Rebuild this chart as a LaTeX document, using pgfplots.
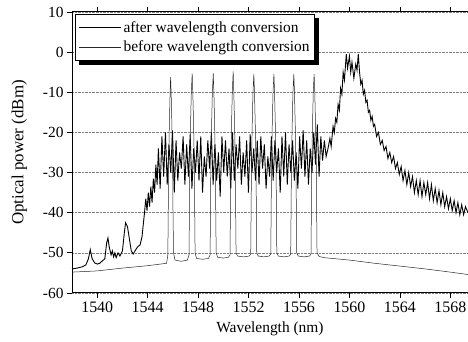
\documentclass[border=0pt]{standalone}
\usepackage{pgfplots}
\pgfplotsset{compat=1.18}
\usepackage{fontspec}
\setmainfont{Liberation Serif}
\begin{document}
\begin{tikzpicture}
\begin{axis}[
  scale only axis,
  width=396bp, height=281bp,
  xmin=1538, xmax=1569.4,
  ymin=-60, ymax=10,
  xtick={1540,1544,...,1568},
  minor x tick num=3,
  ytick={-60,-50,...,10},
  tick align=outside,
  major tick length=5bp,
  minor tick length=3bp,
  axis line style={line width=1pt},
  every tick/.style={black, line width=0.8pt},
  ymajorgrids,
  grid style={densely dotted, gray, line width=0.6pt},
  /pgf/number format/assume math mode=true,
  /pgf/number format/set thousands separator={},
  xticklabel style={font=\fontsize{16}{18}\selectfont},
  yticklabel style={font=\fontsize{15.5}{18}\selectfont},
  xlabel={Wavelength (nm)},
  ylabel={Optical power (dBm)},
  xlabel style={font=\fontsize{15.5}{18}\selectfont, yshift=-3bp},
  ylabel style={font=\fontsize{17}{19}\selectfont, yshift=9bp},
  legend style={at={(rel axis cs:0.008,0.993)}, anchor=north west, name=leg,
    draw=black, line width=1pt, fill=white,
    font=\fontsize{15.5}{18}\selectfont, inner xsep=3pt, inner ysep=5pt,
    cells={anchor=west}, row sep=3pt},
  legend image code/.code={\draw[#1] (0bp,0bp) -- (42bp,0bp);},
]
% after wavelength conversion
\addplot[black, line width=0.9pt] coordinates {
(1538.0,-54.0) (1538.4,-53.8) (1538.8,-53.5) (1539.1,-53.0) (1539.3,-51.5) (1539.45,-49.2) (1539.6,-51.5) (1539.8,-52.5) (1540.0,-52.8) (1540.2,-52.6) (1540.4,-52.0) (1540.6,-51.5) (1540.75,-47.5) (1540.85,-46.3) (1540.95,-48.5) (1541.1,-50.5) (1541.2,-49.5) (1541.3,-51) (1541.4,-50) (1541.5,-51.2) (1541.65,-50) (1541.8,-50.8) (1542.0,-49.5) (1542.15,-45) (1542.25,-42.5) (1542.4,-43.5) (1542.55,-46.5) (1542.7,-49.5) (1542.85,-50.3) (1543.0,-49.5) (1543.2,-48.5) (1543.4,-48.0) (1543.55,-46) (1543.65,-43) (1543.75,-40) (1543.85,-36.5) (1543.95,-39.5) (1544.05,-35) (1544.15,-38.5) (1544.25,-33.5) (1544.35,-37.5) (1544.45,-31.5) (1544.55,-35) (1544.65,-28) (1544.75,-33)
(1544.85,-24) (1544.99,-34) (1545.13,-21) (1545.27,-31) (1545.41,-20) (1545.55,-33) (1545.69,-23) (1545.83,-30) (1545.97,-19.5) (1546.11,-35) (1546.25,-22) (1546.39,-32) (1546.53,-25) (1546.67,-29) (1546.81,-21) (1546.95,-33) (1547.09,-23) (1547.23,-31) (1547.37,-20.5) (1547.51,-34) (1547.65,-24) (1547.79,-30) (1547.93,-22) (1548.07,-32) (1548.21,-21) (1548.35,-35) (1548.49,-26) (1548.63,-31) (1548.77,-22) (1548.91,-29) (1549.05,-20) (1549.19,-33) (1549.33,-23) (1549.47,-32) (1549.61,-25) (1549.75,-36) (1549.89,-21) (1550.03,-30) (1550.17,-22) (1550.31,-31) (1550.45,-24) (1550.59,-34) (1550.73,-20) (1550.87,-32) (1551.01,-23) (1551.15,-29) (1551.29,-21) (1551.43,-33) (1551.57,-25) (1551.71,-31) (1551.85,-22) (1551.99,-35) (1552.13,-20.5) (1552.27,-30) (1552.41,-24) (1552.55,-32) (1552.69,-22) (1552.83,-33) (1552.97,-21) (1553.11,-29) (1553.25,-23) (1553.39,-34) (1553.53,-26) (1553.67,-31) (1553.81,-21) (1553.95,-32) (1554.09,-22) (1554.23,-30) (1554.37,-24) (1554.51,-35) (1554.65,-21) (1554.79,-31) (1554.93,-20) (1555.07,-33) (1555.21,-23) (1555.35,-30) (1555.49,-22) (1555.63,-32) (1555.77,-25) (1555.91,-34) (1556.05,-21) (1556.19,-29) (1556.33,-19.5) (1556.47,-31) (1556.61,-22) (1556.75,-33) (1556.89,-24) (1557.03,-30) (1557.17,-20) (1557.31,-28) (1557.45,-18) (1557.59,-31) (1557.73,-21) (1557.87,-27) (1558.01,-22) (1558.15,-26)
(1558.3,-24) (1558.45,-21.5) (1558.55,-23.5) (1558.7,-18.5) (1558.8,-20) (1558.9,-16.5) (1559.0,-17.5) (1559.1,-13) (1559.2,-14.5) (1559.3,-9) (1559.4,-10.5) (1559.5,-5) (1559.6,-7) (1559.75,-0.5) (1559.85,-4) (1560.0,-1) (1560.1,-5) (1560.2,-2.5) (1560.35,-6.5) (1560.5,-3) (1560.6,-4.5) (1560.7,-0.5) (1560.8,-5) (1560.9,-8) (1561.0,-7) (1561.1,-10.5) (1561.2,-9.5) (1561.3,-12.5) (1561.4,-12) (1561.5,-15) (1561.6,-14.5) (1561.7,-17) (1561.8,-16) (1561.9,-18.5) (1562.0,-18) (1562.15,-21) (1562.3,-20) (1562.45,-23) (1562.6,-22) (1562.75,-24.5) (1562.9,-23.5) (1563.05,-26.5) (1563.2,-25) (1563.35,-27.5) (1563.5,-26) (1563.65,-29) (1563.8,-27.5) (1563.95,-30.5) (1564.1,-28.5) (1564.25,-32) (1564.4,-29.5) (1564.55,-33) (1564.7,-30) (1564.85,-33.5) (1565.0,-31) (1565.15,-35) (1565.3,-32) (1565.45,-35.5) (1565.6,-32) (1565.75,-36) (1565.9,-32.5) (1566.05,-35.5) (1566.2,-32.5) (1566.35,-36.5) (1566.5,-33) (1566.65,-37) (1566.8,-34) (1566.95,-37.5) (1567.1,-34.5) (1567.25,-38) (1567.4,-35) (1567.55,-38.5) (1567.7,-36) (1567.85,-39) (1568.0,-36.5) (1568.15,-39.5) (1568.3,-37) (1568.45,-40) (1568.6,-37.5) (1568.75,-40.5) (1568.9,-38) (1569.05,-40.5) (1569.2,-38.5) (1569.4,-40)
};
\addlegendentry{after wavelength conversion}
% before wavelength conversion
\addplot[black!85, line width=0.5pt] coordinates {
(1538.0,-54.8) (1540,-54.5) (1542,-53.8) (1544,-53.2) (1545.5,-52.6)
(1545.6,-50.5) (1545.63,-40) (1545.66,-28) (1545.72,-18) (1545.78,-10) (1545.82,-6.2) (1545.86,-10) (1545.92,-18) (1545.98,-28) (1546.01,-40) (1546.05,-50) (1546.17,-51.8) (1546.65,-52.1) (1547.15,-51.8)
(1547.28,-50.5) (1547.31,-40) (1547.34,-28) (1547.4,-18) (1547.46,-10) (1547.53,-5.3) (1547.58,-10) (1547.64,-18) (1547.7,-28) (1547.73,-40) (1547.76,-50) (1547.88,-51.4) (1548.35,-51.6) (1548.82,-51.4)
(1548.95,-50.5) (1548.98,-40) (1549.01,-28) (1549.07,-18) (1549.13,-10) (1549.2,-5.3) (1549.25,-10) (1549.31,-18) (1549.37,-28) (1549.4,-40) (1549.43,-50) (1549.55,-51.1) (1550.0,-51.3) (1550.4,-51.1)
(1550.53,-50.5) (1550.56,-40) (1550.59,-28) (1550.65,-18) (1550.71,-10) (1550.78,-4.8) (1550.83,-10) (1550.89,-18) (1550.95,-28) (1550.98,-40) (1551.01,-50) (1551.13,-50.8) (1551.6,-51.0) (1552.05,-50.8)
(1552.17,-50.3) (1552.2,-40) (1552.23,-28) (1552.29,-18) (1552.35,-10) (1552.42,-5.4) (1552.47,-10) (1552.53,-18) (1552.59,-28) (1552.62,-40) (1552.65,-50) (1552.77,-50.8) (1553.2,-51.0) (1553.64,-50.8)
(1553.76,-50.3) (1553.79,-40) (1553.82,-28) (1553.88,-18) (1553.94,-10) (1554.01,-5.4) (1554.06,-10) (1554.12,-18) (1554.18,-28) (1554.21,-40) (1554.24,-50) (1554.36,-50.8) (1554.8,-51.0) (1555.22,-50.8)
(1555.34,-50.3) (1555.37,-40) (1555.4,-28) (1555.46,-18) (1555.52,-10) (1555.59,-5.4) (1555.64,-10) (1555.7,-18) (1555.76,-28) (1555.79,-40) (1555.82,-50) (1555.94,-50.8) (1556.4,-51.0) (1556.83,-50.8)
(1556.95,-50.3) (1556.98,-40) (1557.01,-28) (1557.07,-18) (1557.13,-10) (1557.2,-5.4) (1557.25,-10) (1557.31,-18) (1557.37,-28) (1557.4,-40) (1557.43,-50) (1557.6,-50.9)
(1558,-51.2) (1560,-51.8) (1562,-52.6) (1564,-53.3) (1566,-54.0) (1568,-54.8) (1569.4,-55.4)
};
\addlegendentry{before wavelength conversion}
\end{axis}
\fill[black] ([xshift=4bp,yshift=-4bp]leg.south west) rectangle ([xshift=4bp]leg.south east);
\fill[black] ([yshift=-4bp]leg.north east) rectangle ([xshift=4bp,yshift=-4bp]leg.south east);
\pgfresetboundingbox
\path[use as bounding box] ([xshift=-72bp,yshift=-49bp]current axis.south west) rectangle ([yshift=12bp]current axis.north east);
\end{tikzpicture}
\end{document}
